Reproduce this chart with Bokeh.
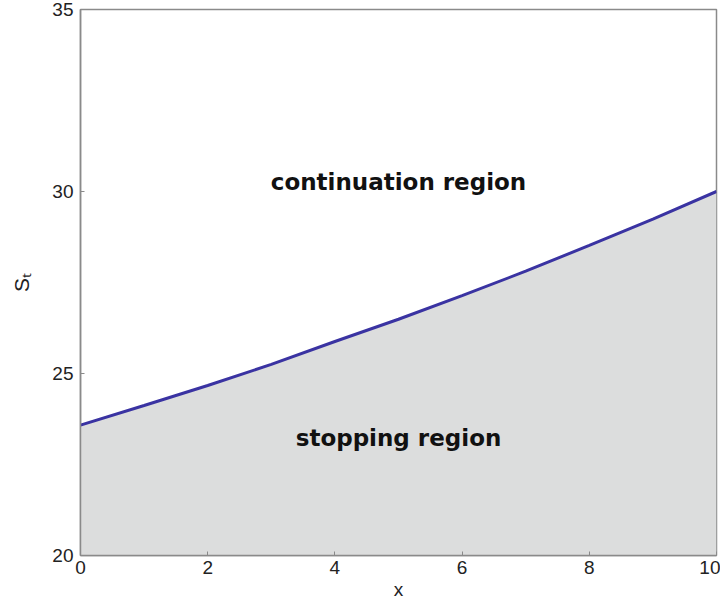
from bokeh.plotting import figure
from bokeh.embed import file_html
from bokeh.resources import INLINE
from bokeh.models import FixedTicker, Label

# data
x_vals = [0, 1, 2, 3, 4, 5, 6, 7, 8, 9, 10]
boundary = [23.58, 24.12, 24.67, 25.25, 25.88, 26.49, 27.14, 27.81, 28.52, 29.24, 30.0]
x_ticks = [0, 2, 4, 6, 8, 10]
y_ticks = [20, 25, 30, 35]
y_floor = 20

p = figure(width=720, height=596, output_backend="svg", toolbar_location=None,
           x_range=(0, 10), y_range=(20, 35),
           min_border_left=80, min_border_right=4, min_border_top=9, min_border_bottom=40)
p.frame_width = 636
p.frame_height = 546

p.varea(x=x_vals, y1=[y_floor] * len(x_vals), y2=boundary, fill_color="#dcdddd")
p.line(x=x_vals, y=boundary, line_color="#3a33a2", line_width=3)

p.add_layout(Label(x=5, y=30.25, text="continuation region", text_align="center",
                   text_baseline="middle", text_font="DejaVu Sans",
                   text_font_style="bold", text_font_size="23px", text_color="#111111"))
p.add_layout(Label(x=5, y=23.24, text="stopping region", text_align="center",
                   text_baseline="middle", text_font="DejaVu Sans",
                   text_font_style="bold", text_font_size="23px", text_color="#111111"))

p.grid.visible = False
p.outline_line_color = "#8a8a8a"
p.outline_line_width = 1.5
p.background_fill_color = "white"
p.border_fill_color = "white"

for ax in (p.xaxis, p.yaxis):
    ax.axis_line_color = "#8a8a8a"
    ax.axis_line_width = 1.5
    ax.major_tick_in = 4
    ax.major_tick_out = 0
    ax.major_tick_line_color = "#8a8a8a"
    ax.minor_tick_line_color = None
    ax.major_label_text_font = "Liberation Sans"
    ax.major_label_text_font_size = "19px"
    ax.major_label_text_color = "#222222"
    ax.axis_label_text_font = "Liberation Sans"
    ax.axis_label_text_font_size = "21px"
    ax.axis_label_text_font_style = "normal"
    ax.axis_label_text_color = "#222222"

p.xaxis.axis_label_text_font_size = "19px"
p.xaxis.ticker = FixedTicker(ticks=x_ticks)
p.yaxis.ticker = FixedTicker(ticks=y_ticks)
p.xaxis.axis_label = "x"
p.yaxis.axis_label = "Sₜ"
p.xaxis.major_label_standoff = 5
p.yaxis.major_label_standoff = 7
p.xaxis.axis_label_standoff = 2
p.yaxis.axis_label_standoff = 16

open("out.html", "w").write(file_html(p, INLINE))
